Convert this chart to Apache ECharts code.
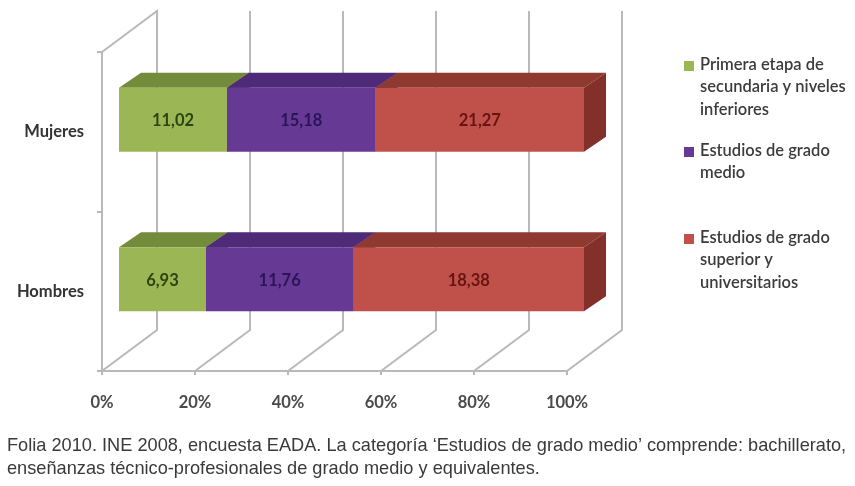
<!DOCTYPE html>
<html><head><meta charset="utf-8">
<style>html,body{margin:0;padding:0;background:#fff}#c{width:855px;height:486px}</style>
<script src="https://cdn.jsdelivr.net/npm/echarts@6/dist/echarts.min.js"></script>
</head><body><div id="c"></div>
<script>
const categories = ['Hombres', 'Mujeres'];
const primeraEtapa = [6.93, 11.02];
const gradoMedio = [11.76, 15.18];
const gradoSuperior = [18.38, 21.27];
const xTicks = [0, 20, 40, 60, 80, 100];
const seriesNames = [
  'Primera etapa de\nsecundaria y niveles\ninferiores',
  'Estudios de grado\nmedio',
  'Estudios de grado\nsuperior y\nuniversitarios'
];
const captionText = 'Folia 2010. INE 2008, encuesta EADA. La categoría ‘Estudios de grado medio’ comprende: bachillerato,\nenseñanzas técnico-profesionales de grado medio y equivalentes.';

const seriesValues = [primeraEtapa, gradoMedio, gradoSuperior];
const faces = [
  {front: '#9BB654', top: '#738C3C', side: '#5f7530', text: '#2c4410'},
  {front: '#663A94', top: '#4E2A78', side: '#3f2164', text: '#2a1458'},
  {front: '#C0504A', top: '#8F3A30', side: '#84302A', text: '#66140f'}
];
const wallDepth = [55, -41];
const barDepth = [22, -15];
const barShift = [17, -12];
const wallColor = '#b9b9b9';

const chart = echarts.init(document.getElementById('c'), null, {renderer: 'canvas'});

function wallItem(params, api) {
  const cs = params.coordSys;
  const v = api.value(0);
  const p = api.coord([v, 0]);
  const x = p[0], bottom = cs.y + cs.height, top = cs.y;
  const pts = [[x, bottom], [x + wallDepth[0], bottom + wallDepth[1]], [x + wallDepth[0], top + wallDepth[1]]];
  if (v === 0) pts.push([x, top]);
  return {type: 'polyline', shape: {points: pts}, style: {stroke: wallColor, lineWidth: 2, fill: null}};
}
function barItem(idx) {
  return function (params, api) {
    const s = api.value(0), e = api.value(1), cat = api.value(2), val = api.value(3);
    const c0 = api.coord([s, cat]), c1 = api.coord([e, cat]);
    const h = api.size([0, 1])[1] * 0.4;
    const x0 = c0[0] + barShift[0], x1 = c1[0] + barShift[0];
    const y0 = c0[1] + barShift[1] - h / 2, y1 = y0 + h;
    const dx = barDepth[0], dy = barDepth[1], f = faces[idx];
    const ch = [
      {type: 'polygon', shape: {points: [[x0, y0], [x1, y0], [x1 + dx, y0 + dy], [x0 + dx, y0 + dy]]}, style: {fill: f.top}},
      {type: 'polygon', shape: {points: [[x1, y0], [x1 + dx, y0 + dy], [x1 + dx, y1 + dy], [x1, y1]]}, style: {fill: f.side}},
      {type: 'rect', shape: {x: x0, y: y0, width: x1 - x0, height: h}, style: {fill: f.front}},
      {type: 'text', x: (x0 + x1) / 2, y: (y0 + y1) / 2 + 1, style: {
        text: val.toFixed(2).replace('.', ','), fill: f.text, align: 'center', verticalAlign: 'middle',
        font: 'bold 16.5px Lato'}}
    ];
    return {type: 'group', children: ch};
  };
}
const totals = categories.map((_, i) => seriesValues.reduce((a, v) => a + v[i], 0));
const running = categories.map(() => 0);
const barSeries = seriesValues.map((vals, k) => {
  const data = vals.map((v, i) => {
    const s = running[i] / totals[i] * 100;
    running[i] += v;
    return [s, running[i] / totals[i] * 100, i, v];
  });
  return {name: seriesNames[k], type: 'custom', coordinateSystem: 'cartesian2d', renderItem: barItem(k),
    data: data, encode: {x: [0, 1], y: 2}, z: 5 + k, silent: true};
});

const legendY = [66, 152, 239];
const overlay = [];
seriesNames.forEach((n, i) => {
  overlay.push({type: 'rect', left: 684, top: legendY[i] - 5, shape: {width: 10, height: 10},
    style: {fill: faces[i].front}});
  n.split('\n').forEach((line, j) => overlay.push({type: 'text', left: 700, top: legendY[i] + j * 22.5 - 10,
    style: {text: line, fill: '#3c3c3c', font: '600 16.5px Lato'}}));
});
captionText.split('\n').forEach((line, j) => overlay.push({type: 'text', left: 7, top: 437 + j * 23,
  style: {text: line, fill: '#3a3a3a', font: '18.2px "Liberation Sans"'}}));

chart.setOption({
  animation: false,
  backgroundColor: '#fff',
  grid: {left: 102, right: 288, top: 52, bottom: 115, containLabel: false},
  xAxis: {type: 'value', min: 0, max: 100, interval: 20,
    splitLine: {show: false},
    axisLine: {show: true, lineStyle: {color: wallColor, width: 2}},
    axisTick: {show: true, length: 4, lineStyle: {color: wallColor, width: 2}},
    axisLabel: {margin: 23, color: '#4a4a4a', fontFamily: 'Lato', fontSize: 16.5, fontWeight: 'bold',
      formatter: v => v + '%', customValues: xTicks}},
  yAxis: {type: 'category', data: categories,
    axisLine: {show: true, lineStyle: {color: wallColor, width: 2}},
    axisTick: {show: true, length: 5, lineStyle: {color: wallColor, width: 2}},
    axisLabel: {margin: 18, color: '#333', fontFamily: 'Lato', fontSize: 16.5, fontWeight: 'bold', padding: [3, 0, 0, 0]}},
  series: [{type: 'custom', coordinateSystem: 'cartesian2d', renderItem: wallItem,
    data: xTicks.map(v => [v]), encode: {x: 0}, z: 1, silent: true}].concat(barSeries),
  graphic: overlay
});
</script></body></html>
